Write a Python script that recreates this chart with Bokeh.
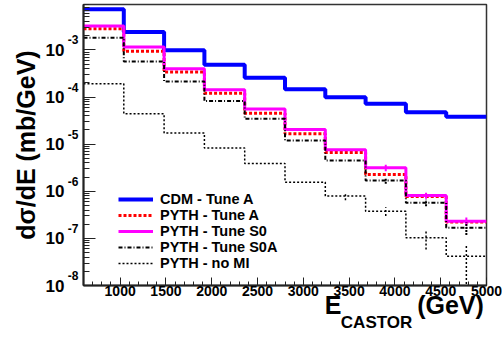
from bokeh.plotting import figure
from bokeh.models import (Range1d, FixedTicker, SingleIntervalTicker, CustomJSTickFormatter,
                          Legend, LegendItem, LogAxis, LinearAxis, Title)
from bokeh.embed import file_html
from bokeh.resources import INLINE

# ---- data ----
bin_edges = [600, 1040, 1480, 1920, 2360, 2800, 3240, 3680, 4120, 4560, 5000]

cdm_tune_a = [7.3e-3, 2.39e-3, 9.8e-4, 4.85e-4, 2.57e-4, 1.47e-4, 9.95e-5, 7.2e-5, 4.78e-5, 3.82e-5]
pyth_tune_a = [2.82e-3, 9.4e-4, 3.38e-4, 1.21e-4, 4.55e-5, 1.66e-5, 6.67e-6, 2.28e-6, 7.76e-7, 2.23e-7]
pyth_tune_s0 = [3.2e-3, 1.15e-3, 3.99e-4, 1.43e-4, 5.58e-5, 2.05e-5, 7.6e-6, 3.15e-6, 8.15e-7, 2.32e-7]
pyth_tune_s0a = [1.82e-3, 5.7e-4, 2.14e-4, 8.2e-5, 3.46e-5, 1.2e-5, 4.5e-6, 1.69e-6, 5.7e-7, 1.68e-7]
pyth_no_mi = [1.91e-4, 4.42e-5, 1.73e-5, 8.3e-6, 3.89e-6, 1.56e-6, 7.94e-7, 3.78e-7, 1.03e-7, 4.19e-8]

err_tune_s0 = [0, 0, 0, 0, 0, 0, 0, 5e-7, 1.2e-7, 4.5e-8]
err_tune_s0a = [0, 0, 0, 0, 0, 0, 0, 2.5e-7, 9e-8, 5e-8]
err_no_mi = [0, 0, 0, 0, 0, 0, 1.5e-7, 8e-8, 4.5e-8, 3.3e-8]

series_labels = ["CDM - Tune A", "PYTH - Tune A", "PYTH - Tune S0", "PYTH - Tune S0A", "PYTH - no MI"]
x_tick_values = [1000, 1500, 2000, 2500, 3000, 3500, 4000, 4500, 5000]
y_decades = [-8, -7, -6, -5, -4, -3]

y_title = "d\u03c3/dE (mb/GeV)"
x_title_main = ["E", "(GeV)"]
x_title_sub = "CASTOR"

FONT = "Liberation Sans"

x_lo, x_hi = 600, 5000
y_lo, y_hi = 1e-8, 9.2e-3

# frame geometry (canvas pixels)
W, H = 502, 339
F_LEFT, F_RIGHT, F_TOP, F_BOTTOM = 83, 486, 4, 285

p = figure(width=W, height=H, y_axis_type="log", output_backend="svg",
           toolbar_location=None, x_range=Range1d(x_lo, x_hi), y_range=Range1d(y_lo, y_hi),
           min_border_left=F_LEFT, min_border_right=W - F_RIGHT,
           min_border_top=F_TOP, min_border_bottom=H - F_BOTTOM)
p.grid.visible = False
p.background_fill_color = "white"
p.border_fill_color = "white"
p.outline_line_color = "#333333"
p.outline_line_width = 1.5


def hide_ticks(ax):
    ax.major_tick_in = 0
    ax.major_tick_out = 0
    ax.minor_tick_in = 0
    ax.minor_tick_out = 0
    ax.axis_line_color = None
    ax.major_tick_line_color = None
    ax.minor_tick_line_color = None


def bold(ax, size):
    ax.major_label_text_font = FONT
    ax.major_label_text_font_style = "bold"
    ax.major_label_text_font_size = size
    ax.major_label_text_color = "black"


# main x axis
p.xaxis.ticker = SingleIntervalTicker(interval=500, num_minor_ticks=5)
p.xaxis.major_label_overrides = {v: str(v) for v in x_tick_values}
bold(p.xaxis, "14px")
p.xaxis.major_label_standoff = 0
p.xaxis.major_tick_in = 8
p.xaxis.major_tick_out = 0
p.xaxis.minor_tick_in = 4
p.xaxis.minor_tick_out = 0

# main y axis (ticks only)
major_y = [10.0 ** n for n in range(-8, -1)]
minor_y = [k * 10.0 ** n for n in range(-9, -1) for k in range(2, 10)]
p.yaxis.ticker = FixedTicker(ticks=major_y, minor_ticks=minor_y)
p.yaxis.formatter = CustomJSTickFormatter(code="return ''")
p.yaxis.major_label_standoff = 0
p.yaxis.major_tick_in = 12
p.yaxis.major_tick_out = 0
p.yaxis.minor_tick_in = 6
p.yaxis.minor_tick_out = 0

for ax in (p.xaxis, p.yaxis):
    ax.axis_line_color = "#222222"
    ax.axis_line_width = 2
    ax.major_tick_line_color = "#222222"
    ax.minor_tick_line_color = "#222222"
    ax.major_tick_line_width = 1
    ax.minor_tick_line_width = 1

# exponent labels (raised) and mantissa "10" labels on extra left axes
raise_factor = 10 ** (10 / 47.12)
exp_axis = LogAxis(ticker=FixedTicker(ticks=[10.0 ** n * raise_factor for n in y_decades], minor_ticks=[]),
                   formatter=CustomJSTickFormatter(code="return String(Math.round(Math.log10(tick) - 0.2))"))
hide_ticks(exp_axis)
bold(exp_axis, "12px")
exp_axis.major_label_standoff = 5
p.add_layout(exp_axis, "left")

man_axis = LogAxis(ticker=FixedTicker(ticks=[10.0 ** n for n in y_decades], minor_ticks=[]),
                   formatter=CustomJSTickFormatter(code="return '10'"))
hide_ticks(man_axis)
bold(man_axis, "17px")
man_axis.major_label_standoff = 0
p.add_layout(man_axis, "left")

p.add_layout(Title(text=y_title, align="center", offset=59, standoff=6, text_font=FONT,
                   text_font_style="bold", text_font_size="25px", text_color="black"), "left")

# x title: E_CASTOR (GeV) on extra below axes
title_axis = LinearAxis(ticker=FixedTicker(ticks=[3325, 4607], minor_ticks=[]),
                        formatter=CustomJSTickFormatter(
                            args=dict(words=x_title_main),
                            code="return tick < 4000 ? words[0] : words[1]"))
hide_ticks(title_axis)
bold(title_axis, "25px")
title_axis.major_label_standoff = -8
p.add_layout(title_axis, "below")

sub_axis = LinearAxis(ticker=FixedTicker(ticks=[3800], minor_ticks=[]),
                      formatter=CustomJSTickFormatter(args=dict(word=x_title_sub), code="return word"))
hide_ticks(sub_axis)
bold(sub_axis, "17px")
sub_axis.major_label_standoff = -9
p.add_layout(sub_axis, "below")


def step_y(vals):
    return list(vals) + [vals[-1]]


styles = [
    dict(line_color="#0000ff", line_width=4, line_dash="solid"),
    dict(line_color="#ff0000", line_width=3, line_dash="3 2"),
    dict(line_color="#ff00ff", line_width=3, line_dash="solid"),
    dict(line_color="black", line_width=2, line_dash="4 2 1 2"),
    dict(line_color="black", line_width=1.5, line_dash="2 2"),
]
all_series = [cdm_tune_a, pyth_tune_a, pyth_tune_s0, pyth_tune_s0a, pyth_no_mi]

renderers = []
for vals, st in zip(all_series, styles):
    r = p.step(x=bin_edges, y=step_y(vals), mode="after", **st)
    renderers.append(r)

centers = [(a + b) / 2 for a, b in zip(bin_edges[:-1], bin_edges[1:])]


def err_bars(vals, errs, **st):
    xs, y0, y1 = [], [], []
    for c, v, e in zip(centers, vals, errs):
        if e > 0:
            xs.append(c)
            lo = v - e
            y0.append(lo if lo > 0 else 1e-10)
            y1.append(v + e)
    p.segment(x0=xs, x1=xs, y0=y0, y1=y1, **st)


err_bars(pyth_tune_s0, err_tune_s0, line_color="#ff00ff", line_width=2)
err_bars(pyth_tune_s0a, err_tune_s0a, line_color="black", line_width=2, line_dash="2 1")
err_bars(pyth_no_mi, err_no_mi, line_color="black", line_width=1.5, line_dash="2 2")

legend = Legend(items=[LegendItem(label=lab, renderers=[r]) for lab, r in zip(series_labels, renderers)],
                location=(35, 14), orientation="vertical",
                label_text_font=FONT, label_text_font_style="bold", label_text_font_size="14.5px",
                label_text_color="black",
                glyph_width=35, glyph_height=14, label_height=14, label_standoff=7,
                spacing=0, padding=0, margin=0,
                border_line_alpha=0, background_fill_alpha=0)
p.add_layout(legend)

open("out.html", "w").write(file_html(p, INLINE))
